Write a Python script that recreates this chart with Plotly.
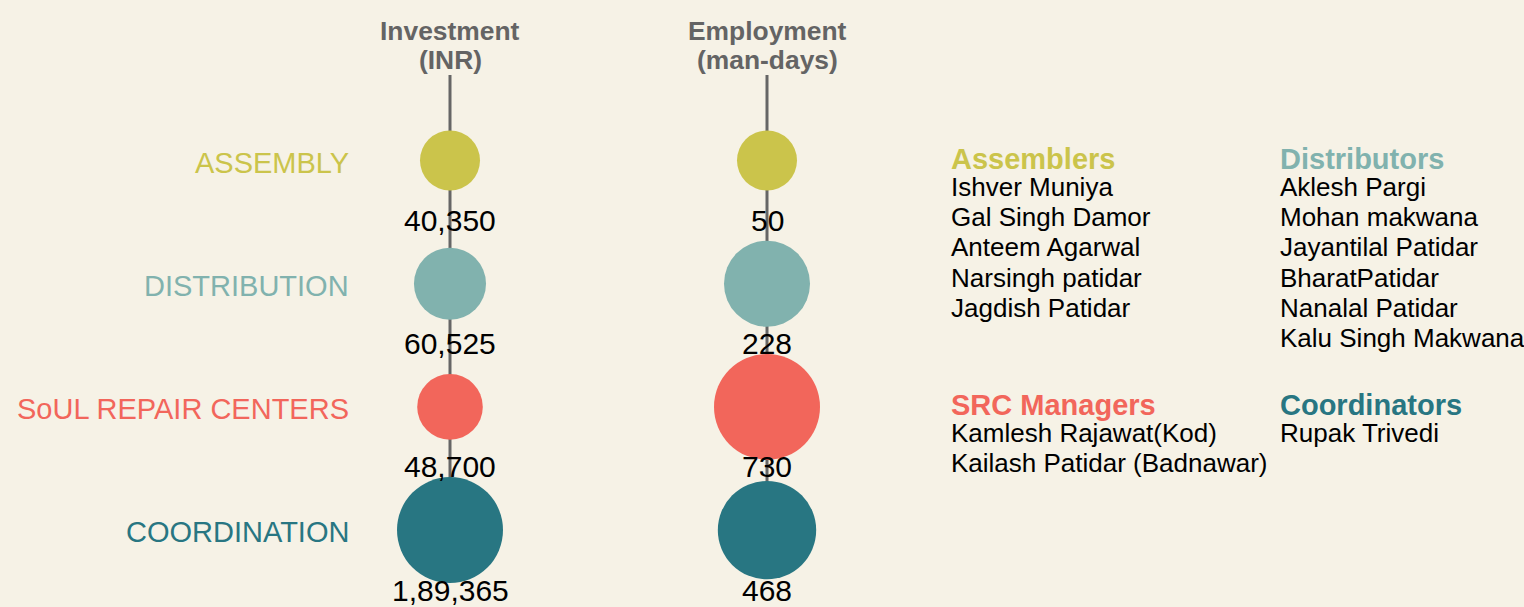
import math
import plotly.graph_objects as go

# ---------------- data ----------------
categories = ["ASSEMBLY", "DISTRIBUTION", "SoUL REPAIR CENTERS", "COORDINATION"]
metrics = ["Investment", "Employment"]
metric_headers = ["Investment\n(INR)", "Employment\n(man-days)"]
investment_inr = [40350, 60525, 48700, 189365]
employment_days = [50, 228, 730, 468]

team_titles = ["Assemblers", "Distributors", "SRC Managers", "Coordinators"]
assemblers = ["Ishver Muniya", "Gal Singh Damor", "Anteem Agarwal", "Narsingh patidar", "Jagdish Patidar"]
distributors = ["Aklesh Pargi", "Mohan makwana", "Jayantilal Patidar", "BharatPatidar",
                "Nanalal Patidar", "Kalu Singh Makwana"]
src_managers = ["Kamlesh Rajawat(Kod)", "Kailash Patidar (Badnawar)"]
coordinators = ["Rupak Trivedi"]

# ---------------- style ----------------
W, H = 1524, 607
BG = "#F6F2E6"
CAT_COLORS = ["#CBC44B", "#81B2AE", "#F2665B", "#287682"]
LINE_GRAY = "#666666"
HEAD_GRAY = "#646464"
FONT = "Liberation Sans, Arial, sans-serif"

X_FIRST_PX, X_STEP_PX = 450, 317      # pixel placement of metric columns
Y_FIRST_PX, Y_STEP_PX = 160.5, 123.2  # pixel placement of category rows
SIZE_MIN, SIZE_MAX = 60, 106


def indian_format(n):
    s = str(int(n))
    if len(s) <= 3:
        return s
    last3, rest = s[-3:], s[:-3]
    groups = []
    while len(rest) > 2:
        groups.insert(0, rest[-2:])
        rest = rest[:-2]
    if rest:
        groups.insert(0, rest)
    return ",".join(groups + [last3])


def log_sizes(vals):
    lo, hi = math.log(min(vals)), math.log(max(vals))
    return [SIZE_MIN + (SIZE_MAX - SIZE_MIN) * (math.log(v) - lo) / (hi - lo) for v in vals]


def py(px):  # pixel from top -> paper fraction
    return 1 - px / H


def px_x(px):
    return px / W


fig = go.Figure()
annotations = []
shapes = []

series = [investment_inr, employment_days]
for m, header, vals in zip(metrics, metric_headers, series):
    # vertical stem
    shapes.append(dict(type="line", xref="x", yref="y", x0=m, x1=m,
                       y0=-(Y_FIRST_PX - 75) / Y_STEP_PX, y1=categories[-1],
                       line=dict(color=LINE_GRAY, width=3), layer="below"))
    fig.add_trace(go.Scatter(
        x=[m] * len(categories), y=categories, mode="markers",
        marker=dict(size=log_sizes(vals), color=CAT_COLORS, opacity=1, line=dict(width=0)),
        hoverinfo="text", hovertext=[f"{c}: {indian_format(v)}" for c, v in zip(categories, vals)],
        showlegend=False))
    for c, v in zip(categories, vals):
        annotations.append(dict(x=m, y=c, xref="x", yref="y", text=indian_format(v),
                                showarrow=False, yshift=-60, xanchor="center", yanchor="middle",
                                font=dict(family=FONT, size=30, color="#000000")))
    for i, line in enumerate(header.split("\n")):
        annotations.append(dict(x=m, xref="x", yref="paper", y=py(31 + i * 29.5),
                                text=f"<b>{line}</b>", showarrow=False,
                                xanchor="center", yanchor="middle",
                                font=dict(family=FONT, size=26.4, color=HEAD_GRAY)))

# category labels on the left
for c, col in zip(categories, CAT_COLORS):
    annotations.append(dict(x=px_x(351), xref="paper", y=c, yref="y", text=c,
                            showarrow=False, xanchor="right", yanchor="middle", yshift=-2,
                            font=dict(family=FONT, size=29, color=col)))

# team lists on the right
team_lists = [assemblers, distributors, src_managers, coordinators]
team_pos = [(949, 159), (1278, 159), (949, 405), (1278, 405)]
for title, names, col, (tx, ty) in zip(team_titles, team_lists, CAT_COLORS, team_pos):
    annotations.append(dict(x=px_x(tx), y=py(ty), xref="paper", yref="paper",
                            text=f"<b>{title}</b>", showarrow=False,
                            xanchor="left", yanchor="middle",
                            font=dict(family=FONT, size=29, color=col)))
    for i, name in enumerate(names):
        annotations.append(dict(x=px_x(tx), y=py(ty + 28 + i * 30.2), xref="paper", yref="paper",
                                text=name, showarrow=False, xanchor="left", yanchor="middle",
                                font=dict(family=FONT, size=26, color="#000000")))

fig.update_layout(
    width=W, height=H, autosize=False,
    margin=dict(l=0, r=0, t=0, b=0, pad=0),
    paper_bgcolor=BG, plot_bgcolor=BG,
    xaxis=dict(type="category", categoryorder="array", categoryarray=metrics,
               range=[-X_FIRST_PX / X_STEP_PX, (W - X_FIRST_PX) / X_STEP_PX],
               visible=False, fixedrange=True),
    yaxis=dict(type="category", categoryorder="array", categoryarray=categories,
               range=[(H - Y_FIRST_PX) / Y_STEP_PX, -Y_FIRST_PX / Y_STEP_PX],
               visible=False, fixedrange=True),
    shapes=shapes, annotations=annotations,
    font=dict(family=FONT),
)

fig.write_html(
    "out.html",
    config={"displayModeBar": False},
    post_script="document.body.style.margin='0';document.body.style.overflow='hidden';"
                "document.body.style.background='" + BG + "';",
)
